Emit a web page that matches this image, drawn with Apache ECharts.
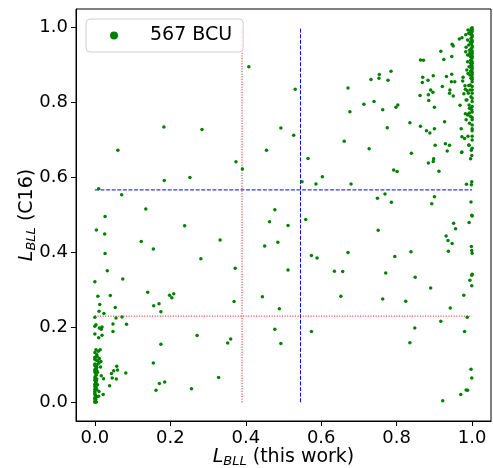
<!DOCTYPE html>
<html>
<head>
<meta charset="utf-8">
<script src="https://cdn.jsdelivr.net/npm/echarts/dist/echarts.min.js"></script>
<style>
html,body{margin:0;padding:0;background:#fff;}
#chart{width:493px;height:468px;}
</style>
</head>
<body>
<div id="chart"></div>
<script>
// 567 BCU: L_BLL(this work) vs L_BLL(C16)
const legendName = '567 BCU'
const tickValues = [0, 0.2, 0.4, 0.6, 0.8, 1.0]

// column near x = 0
const leftColumn = [
  [0.010,0.570],[0.027,0.496],[0.004,0.460],[0.026,0.449],[0.027,0.397],[0.033,0.351],[0.000,0.322],[0.008,0.283],
  [0.013,0.261],[0.011,0.243],[0.024,0.237],[0.000,0.227],[0.003,0.207],[0.000,0.203],[0.012,0.198],[0.019,0.201],
  [0.017,0.195],[0.000,0.182],[0.019,0.179],[0.010,0.172],[0.003,0.140],[0.009,0.136],[0.014,0.140],[0.000,0.133],
  [0.005,0.127],[0.012,0.117],[0.007,0.111],[0.016,0.109],[0.011,0.105],[0.000,0.098],[0.005,0.093],[0.015,0.094],
  [0.000,0.087],[0.005,0.085],[0.001,0.078],[0.007,0.080],[0.017,0.071],[0.001,0.069],[0.005,0.062],[0.000,0.059],
  [0.003,0.052],[0.007,0.047],[0.000,0.043],[0.001,0.037],[0.005,0.034],[0.000,0.029],[0.011,0.029],[0.022,0.021],
  [0.010,0.016],[0.023,0.063],[0.000,0.021],[0.004,0.014],[0.000,0.009],[0.001,0.005],[0.000,0.000],[0.004,0.001],
  [0.000,0.012],[0.002,0.018],[0.000,0.025],[0.003,0.040],[0.000,0.048],[0.002,0.055],[0.000,0.065],[0.004,0.073],
  [0.000,0.082],[0.002,0.090],[0.000,0.102],[0.003,0.113],[0.000,0.120],[0.006,0.122],[0.001,0.003],[0.002,0.008],
  [0.000,0.034],[0.004,0.058],[0.006,0.100],[0.000,0.115]
]

// scattered points in the middle
const middlePoints = [
  [0.408,0.896],[0.183,0.735],[0.284,0.728],[0.061,0.673],[0.531,0.836],[0.493,0.732],[0.527,0.713],[0.455,0.673],
  [0.565,0.651],[0.671,0.839],[0.676,0.776],[0.713,0.796],[0.740,0.803],[0.763,0.781],[0.732,0.862],[0.754,0.875],
  [0.753,0.865],[0.777,0.860],[0.785,0.884],[0.798,0.788],[0.803,0.794],[0.775,0.733],[0.835,0.746],[0.863,0.737],
  [0.879,0.725],[0.888,0.719],[0.900,0.730],[0.661,0.697],[0.727,0.677],[0.839,0.665],[0.898,0.650],[0.902,0.686],
  [0.929,0.690],[0.940,0.686],[0.934,0.671],[0.927,0.749],[0.863,0.914],[0.871,0.913],[0.917,0.937],[0.925,0.915],
  [0.946,0.923],[0.947,0.956],[0.950,0.951],[0.869,0.868],[0.868,0.854],[0.883,0.860],[0.897,0.872],[0.932,0.870],
  [0.946,0.876],[0.945,0.856],[0.954,0.856],[0.921,0.843],[0.890,0.834],[0.896,0.828],[0.884,0.821],[0.862,0.819],
  [0.885,0.806],[0.900,0.788],[0.941,0.834],[0.940,0.825],[0.950,0.818],[0.884,0.639],[0.897,0.643],[0.912,0.617],
  [0.900,0.549],[0.893,0.530],[0.951,0.478],[0.956,0.463],[0.931,0.444],[0.936,0.432],[0.947,0.424],[0.937,0.403],
  [0.838,0.402],[0.391,0.623],[0.603,0.602],[0.792,0.620],[0.801,0.616],[0.549,0.589],[0.586,0.583],[0.679,0.583],
  [0.769,0.556],[0.749,0.545],[0.786,0.534],[0.477,0.514],[0.463,0.482],[0.512,0.472],[0.559,0.488],[0.751,0.459],
  [0.450,0.417],[0.485,0.427],[0.574,0.392],[0.589,0.385],[0.671,0.400],[0.795,0.389],[0.635,0.350],[0.657,0.349],
  [0.771,0.345],[0.849,0.334],[0.512,0.353],[0.890,0.305],[0.444,0.282],[0.652,0.283],[0.763,0.276],[0.824,0.270],
  [0.489,0.250],[0.942,0.252],[0.477,0.195],[0.493,0.157],[0.574,0.189],[0.848,0.198],[0.835,0.159],[0.917,0.216],
  [0.922,0.004],[0.970,0.021],[0.374,0.642],[0.184,0.592],[0.252,0.600],[0.071,0.554],[0.135,0.516],[0.238,0.471],
  [0.123,0.429],[0.155,0.409],[0.332,0.433],[0.281,0.383],[0.372,0.358],[0.074,0.329],[0.140,0.294],[0.156,0.258],
  [0.170,0.263],[0.198,0.286],[0.209,0.290],[0.204,0.279],[0.369,0.269],[0.175,0.242],[0.271,0.178],[0.175,0.155],
  [0.155,0.105],[0.171,0.050],[0.185,0.054],[0.162,0.032],[0.256,0.036],[0.328,0.066],[0.352,0.158],[0.360,0.169],
  [0.084,0.208],[0.072,0.228],[0.056,0.225],[0.048,0.209],[0.048,0.189],[0.054,0.253],[0.041,0.285],[0.058,0.096],
  [0.060,0.086],[0.050,0.084],[0.082,0.078],[0.044,0.077],[0.046,0.065],[0.057,0.062],[0.039,0.044]
]

// column near x = 1
const rightColumn = [
  [0.972,0.667],[0.971,0.730],[0.973,0.709],[0.980,0.704],[0.989,0.710],[0.992,0.686],[0.966,0.970],[0.973,0.973],
  [0.983,0.981],[0.989,0.994],[0.991,0.985],[0.976,0.868],[0.975,0.858],[0.984,0.807],[0.989,0.769],[0.984,0.754],
  [0.982,0.770],[0.993,0.785],[0.981,0.845],[0.982,0.836],[0.987,0.832],[0.968,0.793],[0.978,0.824],[0.988,0.967],
  [0.995,0.983],[0.991,0.954],[0.984,0.948],[0.993,0.940],[0.983,0.936],[0.988,0.927],[0.995,0.923],[0.988,0.909],
  [0.996,0.905],[0.992,0.896],[0.986,0.887],[0.996,0.883],[0.989,0.878],[0.994,0.874],[0.997,0.865],[1.000,0.856],
  [0.995,0.847],[0.991,0.846],[0.995,0.834],[1.000,0.834],[0.990,0.825],[0.997,0.816],[0.986,0.807],[1.000,0.803],
  [0.992,0.794],[0.995,0.785],[0.999,0.781],[0.993,0.772],[0.988,0.767],[0.996,0.763],[1.000,0.754],[0.993,0.745],
  [1.000,0.730],[1.000,0.725],[0.991,0.687],[1.000,0.678],[0.973,0.668],[0.998,0.673],[0.999,0.659],[0.996,0.650],
  [0.999,0.589],[0.998,0.581],[0.985,0.582],[0.997,0.535],[0.999,0.499],[1.000,0.497],[0.992,0.480],[0.998,0.416],
  [0.999,0.405],[1.000,0.398],[1.000,0.342],[0.999,0.339],[0.994,0.326],[0.999,0.311],[0.978,0.286],[0.987,0.227],
  [0.980,0.189],[0.997,0.088],[0.999,0.065],[0.984,0.033],[0.988,0.032],
  [1.000,1.000],[1.000,0.995],[1.000,0.990],[0.998,0.986],[1.000,0.980],[1.000,0.976],[0.997,0.971],[1.000,0.966],
  [1.000,0.962],[0.998,0.958],[1.000,0.952],[1.000,0.947],[0.997,0.943],[1.000,0.938],[1.000,0.933],[0.999,0.929],
  [1.000,0.924],[1.000,0.919],[0.997,0.914],[1.000,0.910],[1.000,0.905],[0.999,0.900],[1.000,0.895],[1.000,0.890],
  [0.998,0.886],[1.000,0.881],[1.000,0.876],[0.999,0.871],[1.000,0.867],[1.000,0.862],[0.998,0.998],[0.996,0.992],
  [0.995,0.962],[0.994,0.932],[0.996,0.913],[0.995,0.895],[1.000,0.843],[1.000,0.825],[1.000,0.812],[1.000,0.790],
  [1.000,0.775],[1.000,0.760],[1.000,0.740],[1.000,0.710],[1.000,0.700]
]

// reference lines
const blueX = 0.545
const blueY = 0.567
const redX = 0.390
const redY = 0.230

const allPoints = leftColumn.concat(middlePoints, rightColumn)

const chart = echarts.init(document.getElementById('chart'), null, {renderer: 'canvas'})
const fontFamily = 'DejaVu Sans'
const nameRich = {
  l: {fontStyle: 'italic', fontSize: 19, fontFamily: fontFamily, color: '#000'},
  s: {fontStyle: 'italic', fontSize: 13, fontFamily: fontFamily, color: '#000', padding: [8, 0, 0, 0]},
  n: {fontSize: 19, fontFamily: fontFamily, color: '#000'}
}

function refLine(pts, color, type) {
  return {
    type: 'line',
    data: pts,
    symbol: 'none',
    silent: true,
    z: 1,
    lineStyle: {color: color, width: 1, type: type}
  }
}

const option = {
  animation: false,
  textStyle: {fontFamily: fontFamily},
  grid: {
    left: 76, right: 2, top: 9, bottom: 47,
    outerBoundsMode: 'none',
    containLabel: false,
    show: true, borderColor: '#000', borderWidth: 1, backgroundColor: 'transparent'
  },
  legend: {
    data: [legendName],
    left: 86, top: 19,
    padding: [7, 11, 7, 24],
    icon: 'circle',
    itemWidth: 8, itemHeight: 8,
    backgroundColor: 'rgba(255,255,255,0.8)',
    borderColor: '#d0d0d0', borderWidth: 1, borderRadius: 4,
    textStyle: {fontSize: 19, color: '#000', fontFamily: fontFamily, padding: [0, 0, 0, 27]}
  },
  xAxis: {
    type: 'value', min: -0.05, max: 1.05,
    name: '{l|L}{s|BLL}{n| (this work)}',
    nameLocation: 'middle', nameGap: 26,
    nameMoveOverlap: false,
    nameTextStyle: {rich: nameRich},
    axisLine: {show: true, onZero: false, lineStyle: {color: '#000'}},
    axisTick: {show: true, customValues: tickValues, length: 5, lineStyle: {color: '#000'}},
    axisLabel: {
      customValues: tickValues, fontSize: 18, color: '#000', margin: 8, fontFamily: fontFamily,
      formatter: v => v.toFixed(1)
    },
    splitLine: {show: false}
  },
  yAxis: {
    type: 'value', min: -0.05, max: 1.05,
    name: '{l|L}{s|BLL}{n| (C16)}',
    nameLocation: 'middle', nameGap: 38,
    nameMoveOverlap: false,
    nameTextStyle: {rich: nameRich},
    axisLine: {show: true, onZero: false, lineStyle: {color: '#000'}},
    axisTick: {show: true, customValues: tickValues, length: 5, lineStyle: {color: '#000'}},
    axisLabel: {
      customValues: tickValues, fontSize: 18, color: '#000', margin: 8, fontFamily: fontFamily,
      formatter: v => v.toFixed(1)
    },
    splitLine: {show: false}
  },
  series: [
    {
      name: legendName,
      type: 'scatter',
      data: allPoints,
      symbol: 'circle',
      symbolSize: 3.5,
      z: 3,
      itemStyle: {color: '#008000', opacity: 1}
    },
    refLine([[blueX, 0], [blueX, 1]], '#0000ff', [4, 1.6]),
    refLine([[0, blueY], [1, blueY]], '#0000ff', [4, 1.6]),
    refLine([[redX, 0], [redX, 1]], '#ff0000', [1, 1.6]),
    refLine([[0, redY], [1, redY]], '#ff0000', [1, 1.6])
  ]
}
chart.setOption(option)
</script>
</body>
</html>
